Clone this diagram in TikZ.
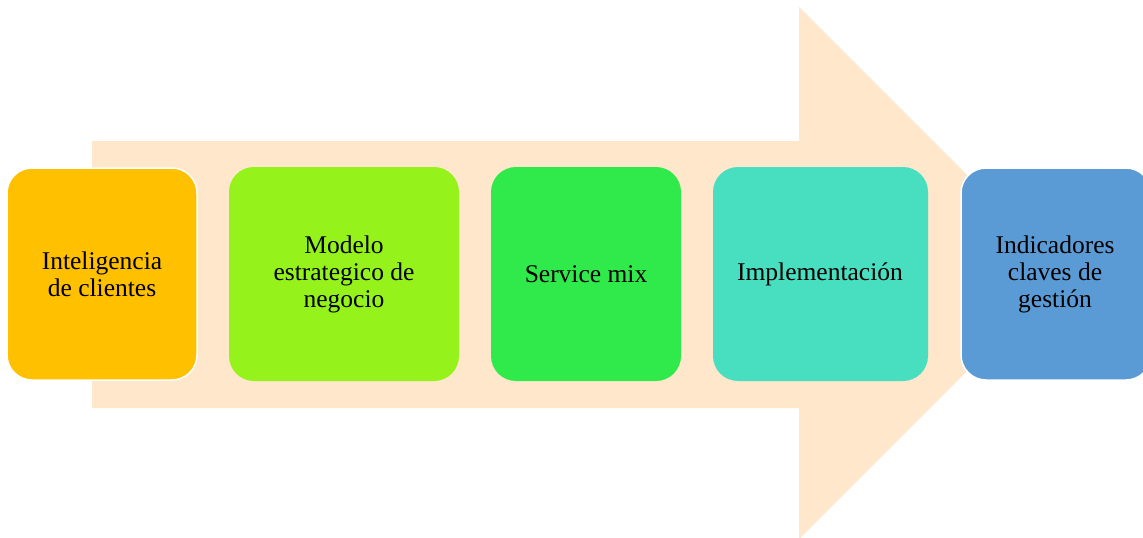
\documentclass[tikz,border=0pt]{standalone}
\usepackage{fontspec}
\setmainfont{Liberation Serif}
\definecolor{peach}{HTML}{FEE7CB}
\definecolor{cA}{HTML}{FFC000}
\definecolor{cB}{HTML}{95F31B}
\definecolor{cC}{HTML}{2FEA4A}
\definecolor{cD}{HTML}{48DFC1}
\definecolor{cE}{HTML}{5B9BD5}
\begin{document}
\begin{tikzpicture}[x=1pt,y=-1pt,
  stepbox/.style={rounded corners=25pt, draw=white, line width=1.5pt},
  lbl/.style={align=center, font=\fontsize{25.5}{27}\selectfont, text=black}]
\useasboundingbox (0,0) rectangle (1143,538);
\clip (0,0) rectangle (1143,538);
\fill[peach] (92,141) -- (799,141) -- (799,7) -- (1065,273) -- (799,539) -- (799,408) -- (92,408) -- cycle;
\filldraw[stepbox, fill=cA] (7,168) rectangle (197,380);
\filldraw[stepbox, fill=cB, draw=none] (229,167) rectangle (459,381);
\filldraw[stepbox, fill=cC, draw=none] (491,167) rectangle (681,381);
\filldraw[stepbox, fill=cD, draw=none] (713,167) rectangle (928,381);
\filldraw[stepbox, fill=cE] (961,168) rectangle (1151,380);
\node[lbl] (a) at (102,274) {Inteligencia\\de clientes};
\node[lbl] (b) at (344,274) {Modelo\\estrategico de\\negocio};
\node[lbl] (c) at (586,274) {Service mix};
\node[lbl] (d) at (820,274) {Implementación};
\node[lbl] (e) at (1055,274) {Indicadores\\claves de\\gestión};
\end{tikzpicture}
\end{document}
